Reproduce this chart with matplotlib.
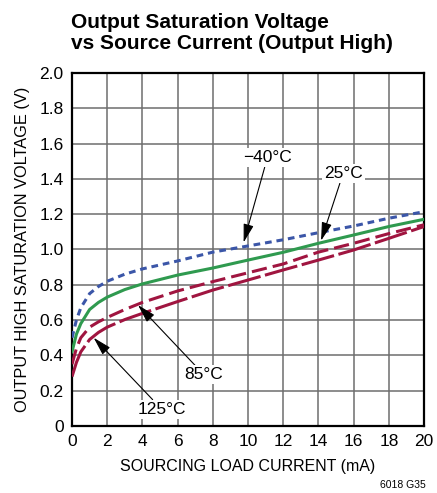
import matplotlib
matplotlib.use("Agg")
import matplotlib.pyplot as plt

current_ma = [0, 0.25, 0.5, 1, 1.5, 2, 3, 4, 6, 8, 10, 12, 14, 16, 18, 20]
v_m40 = [0.50, 0.60, 0.67, 0.75, 0.79, 0.82, 0.86, 0.89, 0.935, 0.985, 1.02, 1.055, 1.095, 1.133, 1.177, 1.214]
v_25 = [0.42, 0.52, 0.58, 0.66, 0.70, 0.73, 0.773, 0.805, 0.855, 0.895, 0.94, 0.984, 1.035, 1.082, 1.13, 1.171]
v_85 = [0.35, 0.44, 0.50, 0.56, 0.59, 0.615, 0.66, 0.70, 0.765, 0.818, 0.868, 0.918, 0.985, 1.035, 1.09, 1.14]
v_125 = [0.28, 0.36, 0.42, 0.49, 0.53, 0.56, 0.603, 0.638, 0.705, 0.77, 0.827, 0.884, 0.94, 0.997, 1.063, 1.13]

x_ticks = [0, 2, 4, 6, 8, 10, 12, 14, 16, 18, 20]
y_ticks = [0, 0.2, 0.4, 0.6, 0.8, 1.0, 1.2, 1.4, 1.6, 1.8, 2.0]
y_tick_labels = ["0", "0.2", "0.4", "0.6", "0.8", "1.0", "1.2", "1.4", "1.6", "1.8", "2.0"]

title_line1 = "Output Saturation Voltage"
title_line2 = "vs Source Current (Output High)"
xlabel = "SOURCING LOAD CURRENT (mA)"
ylabel = "OUTPUT HIGH SATURATION VOLTAGE (V)"

plt.rcParams["font.family"] = ["Liberation Sans", "DejaVu Sans"]

fig = plt.figure(figsize=(4.37, 4.93), dpi=100)
ax = fig.add_axes([0.1648, 0.1359, 0.8055, 0.7161])

ax.plot(current_ma, v_m40, color="#3b56a8", lw=2.2, ls=(0, (2.2, 1.6)), zorder=3)
ax.plot(current_ma, v_25, color="#2f9a4f", lw=2.2, ls="-", zorder=3)
ax.plot(current_ma, v_85, color="#a01540", lw=2.2, ls=(0, (5, 2)), zorder=3)
ax.plot(current_ma, v_125, color="#a01540", lw=2.2, ls=(0, (11, 1.5)), zorder=3)

ax.set_xlim(0, 20)
ax.set_ylim(0, 2.0)
ax.set_xticks(x_ticks)
ax.set_yticks(y_ticks)
ax.set_yticklabels(y_tick_labels)
ax.tick_params(length=0, labelsize=12.5, pad=6)
ax.grid(True, color="#6e6e6e", lw=1.1, zorder=1)
for s in ax.spines.values():
    s.set_linewidth(1.6)
    s.set_color("black")
ax.set_xlabel(xlabel, fontsize=11.5, labelpad=7)
ax.set_ylabel(ylabel, fontsize=11.8, labelpad=7)

fig.text(0.163, 1 - 28 / 493, title_line1, fontsize=15, fontweight="bold",
         va="baseline", ha="left")
fig.text(0.163, 1 - 49 / 493, title_line2, fontsize=15, fontweight="bold",
         va="baseline", ha="left")
fig.text(0.975, 0.006, "6018 G35", fontsize=7.5, ha="right", va="bottom")

arrow = dict(arrowstyle="-|>,head_length=0.9,head_width=0.25", color="black", lw=0.8,
             shrinkA=0, shrinkB=0)
box = dict(facecolor="white", edgecolor="none", pad=1.5)
ax.annotate("\u221240\u00b0C", xy=(9.75, 1.04), xytext=(11.1, 1.52), fontsize=12.5,
            ha="center", va="center", bbox=box, arrowprops=arrow, zorder=5)
ax.annotate("25\u00b0C", xy=(14.15, 1.05), xytext=(15.4, 1.43), fontsize=12.5,
            ha="center", va="center", bbox=box, arrowprops=arrow, zorder=5)
ax.annotate("85\u00b0C", xy=(3.75, 0.685), xytext=(7.5, 0.29), fontsize=12.5,
            ha="center", va="center", bbox=box, arrowprops=arrow, zorder=5)
ax.annotate("125\u00b0C", xy=(1.23, 0.50), xytext=(5.1, 0.095), fontsize=12.5,
            ha="center", va="center", bbox=box, arrowprops=arrow, zorder=5)

fig.savefig("out.png", dpi=100)
